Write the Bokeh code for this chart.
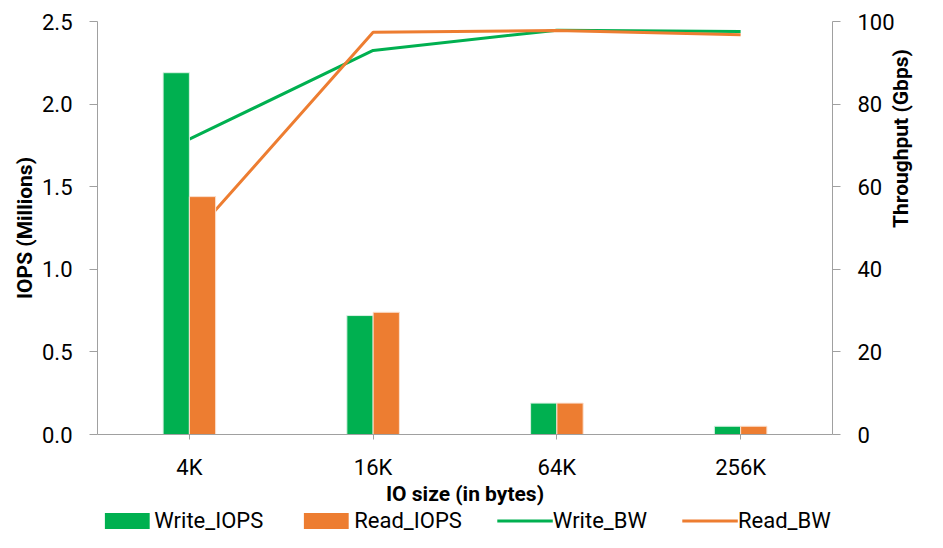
import math
from bokeh.plotting import figure
from bokeh.layouts import column
from bokeh.models import (FactorRange, Range1d, LinearAxis, FixedTicker,
                          PrintfTickFormatter, Legend, LegendItem, ColumnDataSource)
from bokeh.transform import dodge
from bokeh.embed import file_html
from bokeh.resources import INLINE

categories = ["4K", "16K", "64K", "256K"]
write_iops = [2.19, 0.72, 0.19, 0.05]
read_iops = [1.44, 0.74, 0.19, 0.05]
write_bw = [71.5, 93.0, 97.9, 97.6]
read_bw = [47.2, 97.4, 97.8, 96.8]
iops_ticks = [0, 0.5, 1.0, 1.5, 2.0, 2.5]
bw_ticks = [0, 20, 40, 60, 80, 100]
bw_title_tick = [50]
series_names = ["Write_IOPS", "Read_IOPS", "Write_BW", "Read_BW"]

GREEN = "#00b050"
ORANGE = "#ed7d31"
AXIS = "#a0a0a0"
FONT = "Roboto"

src = ColumnDataSource(dict(cat=categories, w_iops=write_iops, r_iops=read_iops,
                            w_bw=write_bw, r_bw=read_bw))

p = figure(width=927, height=508, x_range=FactorRange(*categories),
           y_range=Range1d(0, 2.5), output_backend="svg", toolbar_location=None,
           min_border_left=97, min_border_right=90, min_border_top=21,
           min_border_bottom=70)
p.extra_y_ranges = {"bw": Range1d(0, 100)}
p.x_range.range_padding = 0
p.outline_line_color = None
p.xgrid.grid_line_color = None
p.ygrid.grid_line_color = None

# lines drawn first (behind bars)
p.line(x="cat", y="w_bw", source=src, y_range_name="bw", line_color=GREEN, line_width=3)
p.line(x="cat", y="r_bw", source=src, y_range_name="bw", line_color=ORANGE, line_width=3)

bw = 0.143
p.vbar(x=dodge("cat", -bw / 2, range=p.x_range), top="w_iops", width=bw, source=src,
       fill_color=GREEN, line_color="#d9f2e3", line_width=1)
p.vbar(x=dodge("cat", bw / 2, range=p.x_range), top="r_iops", width=bw, source=src,
       fill_color=ORANGE, line_color="#fbe1d0", line_width=1)

def style_axis(ax):
    ax.axis_line_color = AXIS
    ax.major_tick_line_color = AXIS
    ax.minor_tick_line_color = None
    ax.major_tick_in = 0
    ax.major_label_text_font = FONT
    ax.major_label_text_font_size = "22px"
    ax.major_label_text_color = "#000000"
    ax.axis_label_text_font = FONT
    ax.axis_label_text_font_size = "21px"
    ax.axis_label_text_font_style = "bold"
    ax.axis_label_text_color = "#000000"

# left axis
ya = p.yaxis[0]
style_axis(ya)
ya.ticker = FixedTicker(ticks=iops_ticks)
ya.formatter = PrintfTickFormatter(format="%.1f")
ya.major_tick_out = 8
ya.major_label_standoff = 17
ya.axis_label = "IOPS (Millions)"
ya.axis_label_standoff = 2

# right axis (values)
ra = LinearAxis(y_range_name="bw", ticker=FixedTicker(ticks=bw_ticks))
style_axis(ra)
ra.major_tick_out = 8
ra.major_label_standoff = 17
p.add_layout(ra, "right")

# right axis title, reading bottom-to-top like the left one
rt = LinearAxis(y_range_name="bw", ticker=FixedTicker(ticks=bw_title_tick),
                major_label_overrides={50: "Throughput (Gbps)"},
                major_label_orientation=math.pi / 2)
rt.axis_line_color = None
rt.major_tick_line_color = None
rt.minor_tick_line_color = None
rt.major_tick_out = 0
rt.major_tick_in = 0
rt.major_label_standoff = 3
rt.major_label_text_font = FONT
rt.major_label_text_font_size = "21px"
rt.major_label_text_font_style = "bold"
rt.major_label_text_color = "#000000"
p.add_layout(rt, "right")

# x axis
xa = p.xaxis[0]
style_axis(xa)
xa.major_tick_out = 5
xa.major_label_standoff = 15
xa.axis_label = "IO size (in bytes)"
xa.axis_label_standoff = -1

# legend strip (separate figure so the main layout stays fixed)
lf = figure(width=927, height=24, x_range=FactorRange(*categories),
            y_range=Range1d(1000, 1001),
            output_backend="svg", toolbar_location=None,
            x_axis_type=None, y_axis_type=None,
            min_border_left=0, min_border_right=0, min_border_top=0, min_border_bottom=0)
lf.outline_line_color = None
lf.xgrid.grid_line_color = None
lf.ygrid.grid_line_color = None
g1 = lf.vbar(x="cat", top="w_iops", width=0.1, source=src, fill_color=GREEN, line_color=None)
g2 = lf.vbar(x="cat", top="r_iops", width=0.1, source=src, fill_color=ORANGE, line_color=None)
g3 = lf.line(x="cat", y="w_bw", source=src, line_color=GREEN, line_width=3)
g4 = lf.line(x="cat", y="r_bw", source=src, line_color=ORANGE, line_width=3)

legend = Legend(items=[LegendItem(label=series_names[0], renderers=[g1]),
                       LegendItem(label=series_names[1], renderers=[g2]),
                       LegendItem(label=series_names[2], renderers=[g3]),
                       LegendItem(label=series_names[3], renderers=[g4])],
                orientation="horizontal", location="center",
                glyph_width=56, glyph_height=20, label_standoff=0, spacing=35,
                padding=0, margin=0, border_line_color=None,
                background_fill_alpha=0,
                label_text_font=FONT, label_text_font_size="22px",
                label_text_color="#000000")
lf.add_layout(legend, "center")

lay = column(p, lf, spacing=0)
open("out.html", "w").write(file_html(lay, INLINE))
